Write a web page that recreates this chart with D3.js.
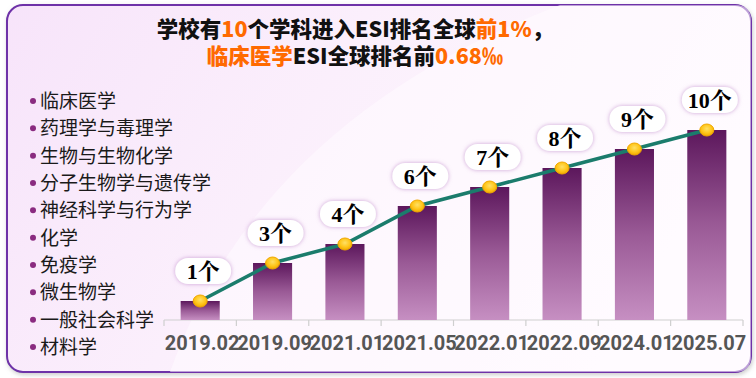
<!DOCTYPE html>
<html>
<head>
<meta charset="utf-8">
<script src="https://cdn.jsdelivr.net/npm/d3@7"></script>
<style>
  html, body { margin: 0; padding: 0; background: #ffffff; }
  svg { display: block; }
  .legend text { font-family: "Noto Sans CJK SC", sans-serif; font-size: 19px; fill: #1a1a1a; }
  .tick-label { font-family: Roboto, "Liberation Sans", sans-serif; font-weight: bold; font-size: 20px; fill: #555; }
  .pill-text { font-family: "Liberation Serif", "Noto Serif CJK SC", serif; font-weight: bold; font-size: 22px; fill: #000; }
  .title { font-family: "Noto Sans CJK SC", sans-serif; font-weight: 900; font-size: 21.5px; }
</style>
</head>
<body>
<svg width="756" height="378"></svg>
<script>
// data
const periods = ['2019.02', '2019.09', '2021.01', '2021.05', '2022.01', '2022.09', '2024.01', '2025.07']
const counts = [1, 3, 4, 6, 7, 8, 9, 10]
const subjects = ['临床医学', '药理学与毒理学', '生物与生物化学', '分子生物学与遗传学', '神经科学与行为学',
  '化学', '免疫学', '微生物学', '一般社会科学', '材料学']
const titleLine1 = [['学校有', '#111'], ['10', '#ff6a00'], ['个学科进入ESI排名全球', '#111'], ['前1%', '#ff6a00'], ['，', '#111']]
const titleLine2 = [['临床医学', '#ff6a00'], ['ESI全球排名前', '#111'], ['0.68‰', '#ff6a00']]

const svg = d3.select('svg')
const defs = svg.append('defs')

// card background
const bg = defs.append('linearGradient').attr('id', 'bg')
  .attr('x1', 0).attr('y1', 0).attr('x2', 1).attr('y2', 0.3)
bg.append('stop').attr('offset', 0).attr('stop-color', '#f7e4fa')
bg.append('stop').attr('offset', 0.45).attr('stop-color', '#fbeffc')
bg.append('stop').attr('offset', 1).attr('stop-color', '#fefafe')

const barGrad = defs.append('linearGradient').attr('id', 'bar')
  .attr('x1', 0).attr('y1', 0).attr('x2', 0).attr('y2', 1)
barGrad.append('stop').attr('offset', 0).attr('stop-color', '#5c175c')
barGrad.append('stop').attr('offset', 0.5).attr('stop-color', '#9a5a96')
barGrad.append('stop').attr('offset', 1).attr('stop-color', '#c68fc2')

const dotGrad = defs.append('radialGradient').attr('id', 'dot')
  .attr('cx', 0.5).attr('cy', 0.4).attr('r', 0.6)
dotGrad.append('stop').attr('offset', 0).attr('stop-color', '#ffe066')
dotGrad.append('stop').attr('offset', 0.6).attr('stop-color', '#ffc61a')
dotGrad.append('stop').attr('offset', 1).attr('stop-color', '#f2a900')

const glow = defs.append('filter').attr('id', 'glow')
  .attr('x', -0.3).attr('y', -0.5).attr('width', 1.6).attr('height', 2)
glow.append('feDropShadow').attr('dx', 0).attr('dy', 0).attr('stdDeviation', 2)
  .attr('flood-color', '#b77cc4').attr('flood-opacity', 0.7)

const shadow = defs.append('filter').attr('id', 'shadow')
  .attr('x', -0.05).attr('y', -0.05).attr('width', 1.1).attr('height', 1.1)
shadow.append('feDropShadow').attr('dx', 1).attr('dy', 2).attr('stdDeviation', 2)
  .attr('flood-color', '#999').attr('flood-opacity', 0.5)

svg.append('rect')
  .attr('x', 7).attr('y', 5).attr('width', 744).attr('height', 367)
  .attr('rx', 16)
  .attr('fill', 'url(#bg)')
  .attr('stroke', '#6e30a8').attr('stroke-width', 2)
  .attr('filter', 'url(#shadow)')

// lighter swoosh
svg.append('path')
  .attr('d', 'M 170 372 Q 260 120 560 5 L 735 5 Q 751 5 751 21 L 751 356 Q 751 372 735 372 Z')
  .attr('fill', '#fffbff').attr('opacity', 0.55)

// title: each coloured run is its own text, laid end to end and centred
;[[titleLine1, 37], [titleLine2, 64]].forEach(([parts, y]) => {
  const g = svg.append('g')
  const runs = g.selectAll('text').data(parts).join('text')
    .attr('class', 'title').attr('y', y)
    .attr('fill', d => d[1]).text(d => d[0])
  const widths = runs.nodes().map(n => n.getComputedTextLength())
  let x = 355 - d3.sum(widths) / 2
  runs.each(function (d, i) {
    d3.select(this).attr('x', x)
    x += widths[i]
  })
})

// legend
const legend = svg.append('g').attr('class', 'legend')
const ly = d3.scalePoint().domain(subjects).range([101, 347])
const items = legend.selectAll('g').data(subjects).join('g')
  .attr('transform', d => `translate(0, ${ly(d)})`)
items.append('circle').attr('cx', 33).attr('cy', 0).attr('r', 3).attr('fill', '#8a2b80')
items.append('text').attr('x', 40).attr('y', 0).attr('dy', '0.36em').text(d => d)

// chart
const xScale = d3.scaleBand().domain(periods).range([164, 743]).paddingInner(0.46).paddingOuter(0.23)
const yScale = d3.scaleLinear().domain([0, 10]).range([320, 130])
const data = periods.map((p, i) => ({ period: p, value: counts[i] }))

const axis = svg.append('g').attr('transform', 'translate(0, 320)')
axis.append('line').attr('x1', 164).attr('x2', 743).attr('stroke', '#cfcfcf').attr('stroke-width', 1.2)
axis.selectAll('.tk').data(d3.range(periods.length + 1)).join('line').attr('class', 'tk')
  .attr('x1', i => 164 + i * (579 / periods.length)).attr('x2', i => 164 + i * (579 / periods.length))
  .attr('y1', 0).attr('y2', 6).attr('stroke', '#cfcfcf').attr('stroke-width', 1.2)
axis.selectAll('.tick-label').data(periods).join('text').attr('class', 'tick-label')
  .attr('x', d => xScale(d) + xScale.bandwidth() / 2 + 2)
  .attr('y', 30).attr('text-anchor', 'middle').text(d => d)

svg.append('g').selectAll('rect').data(data).join('rect')
  .attr('x', d => xScale(d.period))
  .attr('y', d => yScale(d.value))
  .attr('width', xScale.bandwidth())
  .attr('height', d => yScale(0) - yScale(d.value))
  .attr('fill', 'url(#bar)')

const cx = d => xScale(d.period) + xScale.bandwidth() / 2
const line = d3.line().x(cx).y(d => yScale(d.value))
svg.append('path').datum(data)
  .attr('d', line)
  .attr('fill', 'none').attr('stroke', '#1b7c6c').attr('stroke-width', 3.5)

svg.append('g').selectAll('ellipse').data(data).join('ellipse')
  .attr('cx', cx).attr('cy', d => yScale(d.value))
  .attr('rx', 7).attr('ry', 6)
  .attr('fill', 'url(#dot)').attr('stroke', '#f0a800').attr('stroke-width', 1)

const pills = svg.append('g').selectAll('g').data(data).join('g')
  .attr('transform', d => `translate(${cx(d) + 3}, ${yScale(d.value) - 30})`)
pills.append('rect')
  .attr('x', -28).attr('y', -13).attr('width', 56).attr('height', 26).attr('rx', 13)
  .attr('fill', '#fff').attr('filter', 'url(#glow)')
pills.append('text').attr('class', 'pill-text')
  .attr('text-anchor', 'middle').attr('dy', '0.35em')
  .text(d => d.value + '个')
</script>
</body>
</html>
